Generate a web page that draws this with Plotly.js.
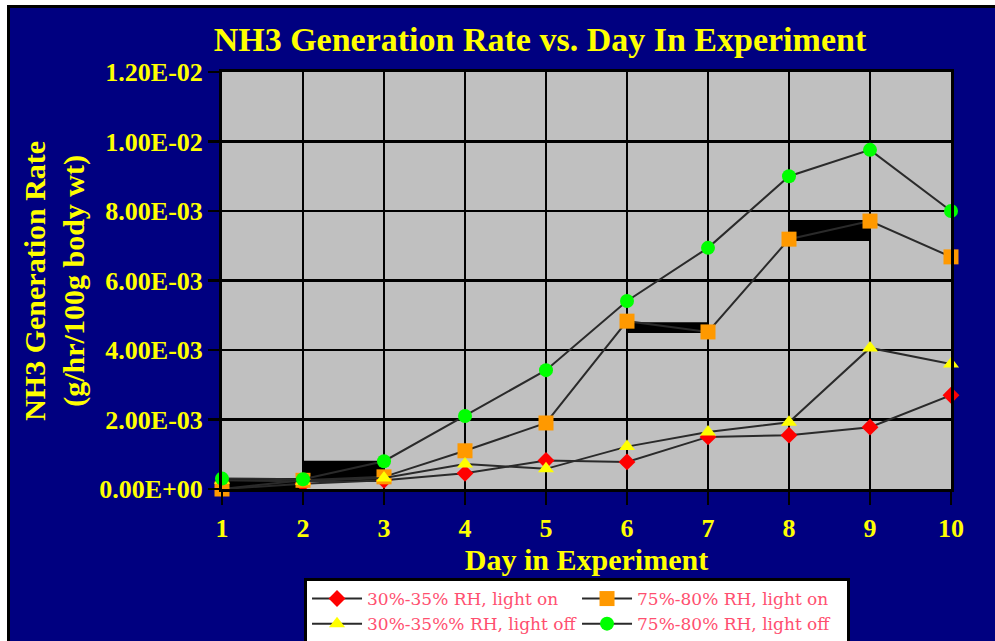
<!DOCTYPE html>
<html>
<head>
<meta charset="utf-8">
<script src="https://cdn.plot.ly/plotly-3.0.1.min.js"></script>
<style>
  html, body { margin: 0; padding: 0; background: #ffffff; overflow: hidden; }
  #frame { position: absolute; left: 7px; top: 5px; border-left: 3px solid #000; border-top: 3px solid #000; width: 985px; height: 633px; }
  #chart { width: 985px; height: 633px; }
</style>
</head>
<body>
<div id="frame"><div id="chart"></div></div>
<script>
// ---- data ----
const days = [1, 2, 3, 4, 5, 6, 7, 8, 9, 10];
const rh30LightOn  = [0.0, 0.00015, 0.00025, 0.00045, 0.00082, 0.00078, 0.0015, 0.00155, 0.00178, 0.0027];
const rh75LightOn  = [0.0, 0.00025, 0.00035, 0.0011, 0.0019, 0.00483, 0.00452, 0.00719, 0.00771, 0.00668];
const rh30LightOff = [0.00025, 0.00022, 0.00032, 0.00072, 0.00058, 0.00122, 0.00164, 0.00192, 0.00406, 0.0036];
const rh75LightOff = [0.0003, 0.00028, 0.0008, 0.0021, 0.00342, 0.00541, 0.00694, 0.009, 0.00976, 0.008];

const seriesNames = ["30%-35% RH, light on", "75%-80% RH, light on", "30%-35%% RH, light off", "75%-80% RH, light off"];

// black blocks seen in the original rendering
const blockStart = [1, 2, 6, 8];
const blockEnd   = [2, 3, 7, 9];
const blockLow   = [0.0, 0.00021, 0.00449, 0.00714];
const blockHigh  = [0.00032, 0.00081, 0.0048, 0.00774];

const yTickVals = [0, 0.002, 0.004, 0.006, 0.008, 0.010, 0.012];
const yTickText = ["0.00E+00", "2.00E-03", "4.00E-03", "6.00E-03", "8.00E-03", "1.00E-02", "1.20E-02"];

// ---- build ----
const serif = "Liberation Serif, Times New Roman, serif";
const yellow = "#ffff00";

const blocks = {
  type: "bar",
  x: blockStart.map((s, i) => (s + blockEnd[i]) / 2),
  width: blockStart.map((s, i) => blockEnd[i] - s),
  base: blockLow,
  y: blockHigh.map((h, i) => h - blockLow[i]),
  marker: { color: "#000000", line: { width: 0 } },
  showlegend: false,
  hoverinfo: "skip"
};

function series(name, y, color, symbol, size) {
  return {
    type: "scatter", mode: "lines+markers", name: name, x: days, y: y,
    line: { color: "#2a2a2a", width: 2 },
    marker: { color: color, symbol: symbol, size: size, line: { width: 0 } },
    cliponaxis: false
  };
}

const traces = [
  blocks,
  series(seriesNames[0], rh30LightOn, "#ff0000", "diamond", 13),
  series(seriesNames[1], rh75LightOn, "#ff9900", "square", 15),
  series(seriesNames[2], rh30LightOff, "#ffff00", "triangle-up", 14),
  series(seriesNames[3], rh75LightOff, "#00ff00", "circle", 14)
];

const layout = {
  width: 985, height: 633,
  paper_bgcolor: "#000080",
  plot_bgcolor: "#c0c0c0",
  margin: { l: 212, r: 44, t: 64, b: 152 },
  barmode: "overlay",
  title: {
    text: "NH3 Generation Rate vs. Day In Experiment",
    font: { family: serif, size: 34, color: yellow, weight: "bold" },
    x: 0.538, xanchor: "center", xref: "container",
    y: 0.951, yanchor: "middle", yref: "container"
  },
  xaxis: {
    range: [1, 10],
    tickvals: days,
    ticktext: days.map(String),
    showgrid: true, gridcolor: "#000000", gridwidth: 2.5,
    showline: true, linecolor: "#000000", linewidth: 3, mirror: true,
    ticks: "outside", ticklen: 13, tickwidth: 2.5, tickcolor: "#000000",
    ticklabelstandoff: 1,
    tickfont: { family: serif, size: 26, color: yellow, weight: "bold" },
    zeroline: false,
    title: {
      text: "Day in Experiment",
      font: { family: serif, size: 30, color: yellow, weight: "bold" },
      standoff: 0
    }
  },
  yaxis: {
    range: [0, 0.012],
    tickvals: yTickVals,
    ticktext: yTickText,
    showgrid: true, gridcolor: "#000000", gridwidth: 2.5,
    showline: true, linecolor: "#000000", linewidth: 3, mirror: true,
    ticks: "outside", ticklen: 11, tickwidth: 2.5, tickcolor: "#000000",
    ticklabelstandoff: 0,
    tickfont: { family: serif, size: 26, color: yellow, weight: "bold" },
    zeroline: false
  },
  annotations: [{
    text: "NH3 Generation Rate<br>(g/hr/100g body wt)",
    xref: "paper", yref: "paper", x: -0.23, y: 0.5,
    xanchor: "center", yanchor: "middle",
    textangle: -90, showarrow: false,
    font: { family: serif, size: 30, color: yellow, weight: "bold" }
  }],
  showlegend: true,
  legend: {
    orientation: "h",
    xref: "container", yref: "container",
    x: 0.2985, xanchor: "left",
    y: 0.0995, yanchor: "top",
    bgcolor: "#ffffff", bordercolor: "#000000", borderwidth: 3,
    font: { family: "DejaVu Serif, serif", size: 17, color: "#ff4f6f" },
    itemwidth: 50,
    entrywidth: 205,
    tracegroupgap: 0
  }
};

Plotly.newPlot("chart", traces, layout, { displayModeBar: false, staticPlot: true });
</script>
</body>
</html>
